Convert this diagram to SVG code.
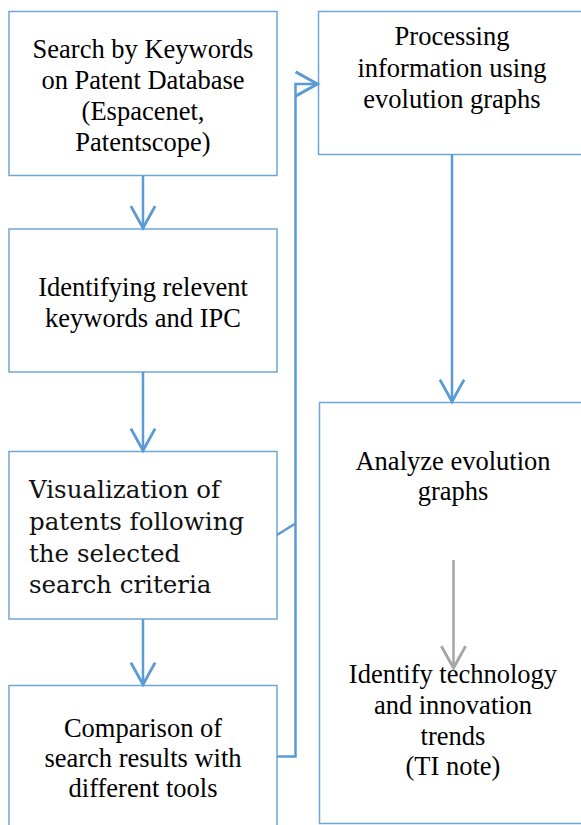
<svg xmlns="http://www.w3.org/2000/svg" width="581" height="825" viewBox="0 0 581 825">
<style>
.box{fill:#fff;stroke:#6fa6da;stroke-width:1.5}
.t{font-family:'Liberation Serif','Times New Roman','DejaVu Serif',serif;font-size:26.5px;fill:#000;text-anchor:middle}
.s{font-family:'DejaVu Serif',serif;font-size:24.5px;fill:#111}
.c{fill:none;stroke:#5b9bd5;stroke-width:2.5}
.g{fill:none;stroke:#a5a5a5;stroke-width:2.5}
</style>
<defs>
<marker id="ab" markerUnits="userSpaceOnUse" markerWidth="30" markerHeight="30" refX="0" refY="0" viewBox="-22 -13 24 26" orient="auto"><path d="M-19,-10.5 L0,0 L-19,10.5" fill="none" stroke="#5b9bd5" stroke-width="2.5"/></marker>
<marker id="ag" markerUnits="userSpaceOnUse" markerWidth="30" markerHeight="30" refX="0" refY="0" viewBox="-22 -13 24 26" orient="auto"><path d="M-19,-10.5 L0,0 L-19,10.5" fill="none" stroke="#a5a5a5" stroke-width="2.5"/></marker>
</defs>
<g id="n1"><rect class="box" x="9" y="11.5" width="268" height="164"/>
<text class="t" x="143" y="58">Search by Keywords</text>
<text class="t" x="143" y="89">on Patent Database</text>
<text class="t" x="143" y="120">(Espacenet,</text>
<text class="t" x="143" y="151">Patentscope)</text></g>
<g id="n2"><rect class="box" x="9" y="229" width="268" height="143"/>
<text class="t" x="143" y="296">Identifying relevent</text>
<text class="t" x="143" y="327">keywords and IPC</text></g>
<g id="n3"><rect class="box" x="9" y="451.5" width="268" height="167.5"/>
<text class="s" x="29" y="498">Visualization of</text>
<text class="s" x="29" y="530">patents following</text>
<text class="s" x="29" y="562">the selected</text>
<text class="s" x="29" y="593">search criteria</text></g>
<g id="n4"><rect class="box" x="9" y="685.5" width="268" height="150"/>
<text class="t" x="143" y="737">Comparison of</text>
<text class="t" x="143" y="767">search results with</text>
<text class="t" x="143" y="797">different tools</text></g>
<g id="n5"><rect class="box" x="318.5" y="11.5" width="270" height="143"/>
<text class="t" x="452" y="45">Processing</text>
<text class="t" x="452" y="77">information using</text>
<text class="t" x="452" y="108">evolution graphs</text></g>
<g id="n6"><rect class="box" x="319.5" y="402.5" width="270" height="421"/>
<text class="t" x="453" y="470">Analyze evolution</text>
<text class="t" x="453" y="500">graphs</text>
<text class="t" x="453" y="683">Identify technology</text>
<text class="t" x="453" y="714">and innovation</text>
<text class="t" x="453" y="745">trends</text>
<text class="t" x="453" y="775">(TI note)</text></g>
<g id="connectors">
<line class="c" x1="143" y1="175.5" x2="143" y2="228" marker-end="url(#ab)"/>
<line class="c" x1="143" y1="372" x2="143" y2="450.5" marker-end="url(#ab)"/>
<line class="c" x1="143" y1="619" x2="143" y2="684.5" marker-end="url(#ab)"/>
<line class="c" x1="452" y1="154.5" x2="452" y2="401.5" marker-end="url(#ab)"/>
<polyline class="c" points="277,756.5 295.5,756.5 295.5,84 317.5,84" marker-end="url(#ab)"/>
<line class="c" x1="277" y1="535" x2="295.5" y2="523.5"/>
<line class="g" x1="453.5" y1="560" x2="453.5" y2="668" marker-end="url(#ag)"/>
</g>
</svg>
